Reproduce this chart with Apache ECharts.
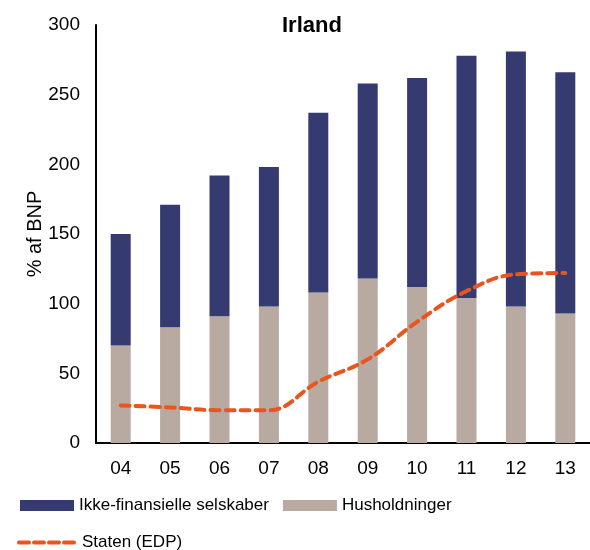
<!DOCTYPE html>
<html>
<head>
<meta charset="utf-8">
<script src="https://cdn.jsdelivr.net/npm/echarts@6/dist/echarts.min.js"></script>
<style>
  html, body { margin: 0; padding: 0; background: #fff; }
  #chart { width: 590px; height: 550px; }
</style>
</head>
<body>
<div id="chart"></div>
<script>
const years = ['04', '05', '06', '07', '08', '09', '10', '11', '12', '13'];
const husholdninger = [70, 83, 91, 98, 108, 118, 112, 104, 98, 93];
const totalPrivat = [150, 171, 192, 198, 237, 258, 262, 278, 281, 266];
const ikkeFinansielle = totalPrivat.map((t, i) => t - husholdninger[i]);
const staten = [27, 25.5, 23.5, 23.5, 44, 60, 87, 109, 121, 122];

const font = 'Liberation Sans, Arial, sans-serif';
const chart = echarts.init(document.getElementById('chart'));

chart.setOption({
  backgroundColor: '#fff',
  animation: false,
  title: {
    text: 'Irland',
    left: 282,
    top: 15,
    padding: 0,
    textStyle: { fontFamily: font, fontSize: 22, fontWeight: 'bold', color: '#000' }
  },
  grid: { left: 96, top: 25, width: 498, height: 418 },
  legend: [
    {
      data: ['Ikke-finansielle selskaber', 'Husholdninger'],
      left: 20,
      top: 497,
      padding: 0,
      icon: 'rect',
      itemWidth: 54,
      itemHeight: 11,
      itemGap: 14,
      textStyle: { fontFamily: font, fontSize: 17, color: '#000' }
    },
    {
      data: ['Staten (EDP)'],
      left: 17,
      top: 534,
      padding: 0,
      itemWidth: 58,
      itemHeight: 11,
      itemStyle: { opacity: 0 },
      lineStyle: { width: 4, type: [10, 5], cap: 'round' },
      textStyle: { fontFamily: font, fontSize: 17, color: '#000' }
    }
  ],
  xAxis: {
    type: 'category',
    data: years,
    axisLine: { lineStyle: { color: '#000', width: 2 } },
    axisTick: { show: false },
    axisLabel: { fontFamily: font, fontSize: 19, color: '#000', margin: 16 }
  },
  yAxis: {
    type: 'value',
    min: 0,
    max: 300,
    interval: 50,
    name: '% af BNP',
    nameLocation: 'middle',
    nameGap: 51,
    nameMoveOverlap: false,
    nameTextStyle: { fontFamily: font, fontSize: 20, color: '#000' },
    axisLine: { show: true, lineStyle: { color: '#000', width: 2 } },
    axisTick: { show: false },
    splitLine: { show: false },
    axisLabel: { fontFamily: font, fontSize: 19, color: '#000', margin: 16 }
  },
  series: [
    {
      name: 'Husholdninger',
      type: 'bar',
      stack: 'privat',
      barWidth: 20,
      itemStyle: { color: '#b8a9a1' },
      data: husholdninger
    },
    {
      name: 'Ikke-finansielle selskaber',
      type: 'bar',
      stack: 'privat',
      barWidth: 20,
      itemStyle: { color: '#353b70' },
      data: ikkeFinansielle
    },
    {
      name: 'Staten (EDP)',
      type: 'line',
      smooth: 0.4,
      symbol: 'none',
      lineStyle: { color: '#e8561e', width: 4, type: [9, 6], cap: 'round' },
      itemStyle: { color: '#e8561e' },
      data: staten
    }
  ]
});
</script>
</body>
</html>
